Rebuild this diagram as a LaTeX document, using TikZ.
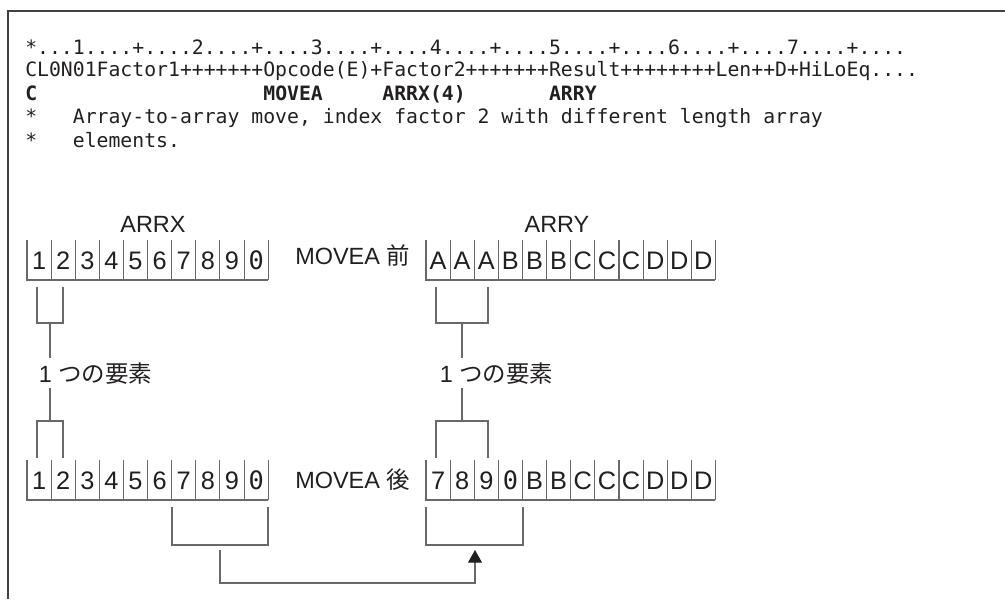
\documentclass[tikz,border=0pt]{standalone}
\usepackage{fontspec}
\setmainfont{Liberation Sans}
\newfontfamily\codefont{DejaVu Sans Mono}
\newfontfamily\cjk{Noto Sans CJK JP}
\usetikzlibrary{arrows.meta,calc}
\definecolor{ink}{RGB}{35,31,32}
\definecolor{rulegray}{RGB}{105,105,105}
\newcommand{\codesize}{\fontsize{14.83pt}{17pt}\selectfont}
\newlength{\colw}
\newcommand{\gap}[1]{\settowidth{\colw}{0}\hspace*{#1\colw}}
\newcommand{\zero}{{\codefont 0}}
\tikzset{
  frame/.style={line width=1.1pt, draw=ink!85},
  cellline/.style={line width=0.8pt, draw=rulegray},
  bracket/.style={line width=0.8pt, draw=rulegray},
  moveflow/.style={-{Triangle[width=10.5pt,length=9.5pt,color=ink]}, line width=0.8pt, draw=rulegray},
  code/.style={anchor=base west, inner sep=0pt, text=ink, font=\codefont\codesize},
  codebold/.style={code, font=\codefont\codesize\bfseries},
  lab/.style={anchor=base, inner sep=0pt, text=ink, font=\fontsize{17.6pt}{20pt}\selectfont},
  elem/.style={lab, anchor=base west, inner ysep=3pt},
  cellchar/.style={anchor=base, inner sep=0pt, text=ink, font=\fontsize{19pt}{22pt}\selectfont},
}
\newcommand{\cellrow}[4]{
  \begin{scope}[shift={#2}]
    \draw[cellline] (0,0) -- (0,40) -- ({#3*24.12},40);
    \foreach \cellchr [count=\i] in {#4} {
      \draw[cellline] ({\i*24.12},0) -- ({\i*24.12},40);
      \node[cellchar] (#1-\i) at ({(\i-0.5)*24.12},29) {\cellchr};
    }
  \end{scope}
}
\frenchspacing

\begin{document}
\begin{tikzpicture}[x=0.75pt,y=-0.75pt]
  \useasboundingbox (0,0) rectangle (1005,599);

  % Frame, open at the right and at the bottom.
  \draw[frame] (8,599) -- (8,11) -- (1005,11);

  % Source lines.
  \node[code] (ruler) at (25,55) {*...1....+....2....+....3....+....4....+....5....+....6....+....7....+....};
  \node[code] (spec) at (25,77) {CL0N01Factor1+++++++Opcode(E)+Factor2+++++++Result++++++++Len++D+HiLoEq....};
  \node[codebold] (calc) at (25,101) {C\gap{19}MOVEA\gap{5}ARRX(4)\gap{7}ARRY};
  \node[code] (note1) at (25,124) {*\gap{3}Array-to-array move, index factor 2 with different length array};
  \node[code] (note2) at (25,147) {*\gap{3}elements.};

  % Arrays before the move.
  \node[lab] (arrxlab) at (153,232) {ARRX};
  \node[lab] (arrylab) at (557,232) {ARRY};
  \cellrow{xa}{(27,240)}{10}{1,2,3,4,5,6,7,8,9,\zero}
  \node[lab, anchor=base west] (before) at (295,264) {MOVEA {\cjk 前}};
  \cellrow{ya}{(426,240)}{12}{A,A,A,B,B,B,C,C,C,D,D,D}

  % Arrays after the move.
  \cellrow{xb}{(27,460)}{10}{1,2,3,4,5,6,7,8,9,\zero}
  \node[lab, anchor=base west] (after) at (295,488) {MOVEA {\cjk 後}};
  \cellrow{yb}{(426,460)}{12}{7,8,9,\zero,B,B,C,C,C,D,D,D}

  % One element of each array.
  \node[elem] (elemx) at (38.5,382) {1 {\cjk つの要素}};
  \node[elem] (elemy) at (439.5,382) {1 {\cjk つの要素}};

  \coordinate (xaMid) at (50,323);
  \coordinate (xbMid) at (50,421);
  \draw[bracket] (37,287) -- (37,323) -- (63,323) -- (63,287);
  \draw[bracket] (37,458) -- (37,421) -- (63,421) -- (63,458);
  \draw[bracket] (xaMid) -- (elemx.north -| xaMid);
  \draw[bracket] (elemx.south -| xbMid) -- (xbMid);

  \coordinate (yaMid) at (462,323);
  \coordinate (ybMid) at (462,421);
  \draw[bracket] (436,287) -- (436,323) -- (488,323) -- (488,287);
  \draw[bracket] (436,458) -- (436,421) -- (488,421) -- (488,458);
  \draw[bracket] (yaMid) -- (elemy.north -| yaMid);
  \draw[bracket] (elemy.south -| ybMid) -- (ybMid);

  % Moved part: 7890 of ARRX into the first element of ARRY.
  \draw[bracket] (172,507) -- (172,545) -- (268,545) -- (268,507);
  \draw[bracket] (426,507) -- (426,545) -- (523,545) -- (523,507);
  \coordinate (srcMid) at (220,550);
  \coordinate (dstMid) at (475,550);
  \draw[moveflow] (srcMid) -- ++(0,33) -| (dstMid);

\end{tikzpicture}
\end{document}
